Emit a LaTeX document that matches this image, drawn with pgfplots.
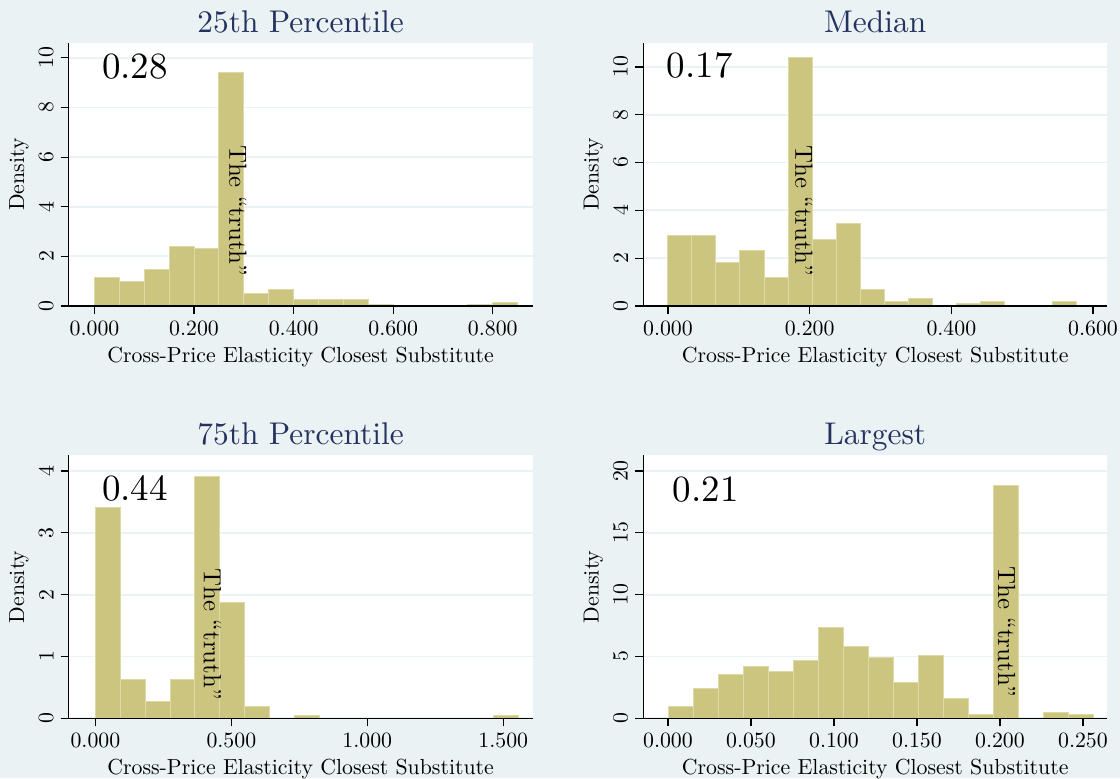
\documentclass[border=0pt]{standalone}
\usepackage{fontspec}
\setmainfont{lmroman10-regular}[Extension=.otf, Ligatures=TeX]
\usepackage{pgfplots}
\pgfplotsset{compat=1.18}
\definecolor{bgc}{RGB}{234,242,243}
\definecolor{gridc}{RGB}{234,242,243}
\definecolor{barc}{RGB}{204,197,128}
\definecolor{barl}{RGB}{222,218,168}
\definecolor{titc}{RGB}{36,50,96}
\pgfplotsset{
  hist/.style={
    scale only axis, width=232pt, height=131.5pt,
    anchor=south west, clip=false,
    axis x line*=bottom, axis y line*=left,
    axis line style={-, black, line width=0.6pt},
    axis background/.style={fill=white},
    ymajorgrids, major grid style={gridc, line width=0.9pt},
    tick align=outside, major tick length=4pt,
    tick style={black, line width=0.6pt},
    ymin=0, scaled x ticks=false, scaled y ticks=false,
    /pgf/number format/assume math mode=true,
    tick label style={font=\fontsize{10.9}{12}\selectfont},
    x tick label style={/pgf/number format/.cd, fixed, fixed zerofill, precision=3, /tikz/.cd},
    y tick label style={rotate=90, anchor=south},
    xlabel={Cross-Price Elasticity Closest Substitute},
    ylabel={Density},
    label style={font=\fontsize{10.9}{12}\selectfont},
    xlabel style={at={(axis description cs:0.5,-0.213)}, anchor=base},
    ylabel style={at={(axis description cs:-0.096,0.5)}, anchor=base},
    every axis title shift=0pt,
    title style={font=\fontsize{15.7}{18}\selectfont, color=titc, at={(axis description cs:0.5,1.04)}, anchor=base},
  },
  bars/.style={ybar interval, fill=barc, draw=barl, line width=0.5pt},
}
\newcommand{\xaxisline}{\draw[black, line width=0.6pt] (rel axis cs:0,0) -- (rel axis cs:1,0);}
\begin{document}
\begin{tikzpicture}
\path[use as bounding box, fill=bgc] (0,0) rectangle (560pt,389pt);
% 25th percentile
\begin{axis}[hist, at={(34.3pt,236pt)}, title={25th Percentile},
  xmin=-0.052, xmax=0.880, ymax=10.6,
  xtick={0,0.2,0.4,0.6,0.8}, ytick={0,2,4,6,8,10}]
\addplot[bars] coordinates {(0.00,1.15)(0.05,0.99)(0.10,1.48)(0.15,2.39)(0.20,2.33)(0.25,9.41)(0.30,0.52)(0.35,0.67)(0.40,0.27)(0.45,0.27)(0.50,0.27)(0.55,0.08)(0.60,0)};
\addplot[bars] coordinates {(0.75,0.08)(0.80,0.14)(0.85,0)};
\xaxisline
\node[rotate=-90, inner sep=0, font=\fontsize{12.4}{14}\selectfont] at (axis cs:0.288,3.84) {The “truth”};
\node[anchor=base west, inner sep=0, font=\fontsize{18.5}{22}\selectfont] at (axis cs:0.0145,9.18) {0.28};
\end{axis}
% Median
\begin{axis}[hist, at={(321.6pt,236pt)}, title={Median},
  xmin=-0.0349, xmax=0.620, ymax=11.0,
  xtick={0,0.2,0.4,0.6}, ytick={0,2,4,6,8,10}]
\addplot[bars] coordinates {(0.0000,2.96)(0.0339,2.96)(0.0678,1.83)(0.1017,2.32)(0.1356,1.20)(0.1695,10.39)(0.2034,2.77)(0.2373,3.46)(0.2712,0.70)(0.3051,0.18)(0.3390,0.31)(0.3729,0)};
\addplot[bars] coordinates {(0.4068,0.11)(0.4407,0.20)(0.4746,0)};
\addplot[bars] coordinates {(0.5424,0.20)(0.5763,0)};
\xaxisline
\node[rotate=-90, inner sep=0, font=\fontsize{12.4}{14}\selectfont] at (axis cs:0.192,3.98) {The “truth”};
\node[anchor=base west, inner sep=0, font=\fontsize{18.5}{22}\selectfont] at (axis cs:-0.002,9.54) {0.17};
\end{axis}
% 75th percentile
\begin{axis}[hist, at={(34.3pt,29.85pt)}, title={75th Percentile},
  xmin=-0.0985, xmax=1.608, ymax=4.254,
  xtick={0,0.5,1,1.5}, ytick={0,1,2,3,4}]
\addplot[bars] coordinates {(0,3.41)(0.0915,0.62)(0.183,0.27)(0.2745,0.62)(0.366,3.91)(0.4575,1.88)(0.549,0.19)(0.6405,0)};
\addplot[bars] coordinates {(0.732,0.05)(0.8235,0)};
\addplot[bars] coordinates {(1.464,0.05)(1.5555,0)};
\xaxisline
\node[rotate=-90, inner sep=0, font=\fontsize{12.4}{14}\selectfont] at (axis cs:0.430,1.36) {The “truth”};
\node[anchor=base west, inner sep=0, font=\fontsize{18.5}{22}\selectfont] at (axis cs:0.0235,3.53) {0.44};
\end{axis}
% Largest
\begin{axis}[hist, at={(321.6pt,29.85pt)}, title={Largest},
  xmin=-0.0149, xmax=0.2646, ymax=21.27,
  xtick={0,0.05,0.1,0.15,0.2,0.25}, ytick={0,5,10,15,20}]
\addplot[bars] coordinates {(0.0005,0.97)(0.01555,2.42)(0.0306,3.58)(0.04565,4.23)(0.0607,3.77)(0.07575,4.71)(0.0908,7.35)(0.10585,5.79)(0.1209,4.93)(0.13595,2.88)(0.151,5.09)(0.16605,1.6)(0.1811,0.28)(0.19615,18.84)(0.2112,0)};
\addplot[bars] coordinates {(0.22625,0.5)(0.2413,0.27)(0.25635,0)};
\xaxisline
\node[rotate=-90, inner sep=0, font=\fontsize{12.4}{14}\selectfont] at (axis cs:0.2040,6.97) {The “truth”};
\node[anchor=base west, inner sep=0, font=\fontsize{18.5}{22}\selectfont] at (axis cs:0.0028,17.5) {0.21};
\end{axis}
\end{tikzpicture}
\end{document}
